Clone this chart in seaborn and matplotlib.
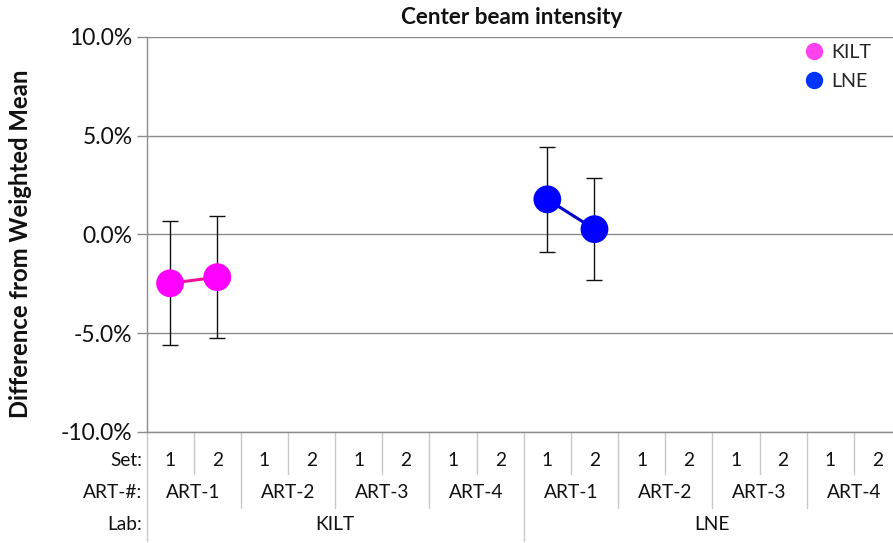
import matplotlib
matplotlib.use("Agg")
import matplotlib.pyplot as plt
import matplotlib.transforms as mtransforms
from matplotlib.lines import Line2D
import seaborn as sns
import pandas as pd

# ---- data ----
labs = ["KILT", "LNE"]
arts = ["ART-1", "ART-2", "ART-3", "ART-4"]
sets = ["1", "2"]
yticks = [-10.0, -5.0, 0.0, 5.0, 10.0]

kilt_cats = [("KILT", "ART-1", "1"), ("KILT", "ART-1", "2")]
kilt_values = [-2.47, -2.16]
kilt_errors = [3.15, 3.08]

lne_cats = [("LNE", "ART-1", "1"), ("LNE", "ART-1", "2")]
lne_values = [1.78, 0.27]
lne_errors = [2.67, 2.59]

title = "Center beam intensity"
ylabel = "Difference from Weighted Mean"

# ---- category order ----
categories = [(l, a, s) for l in labs for a in arts for s in sets]
cat_index = {c: i for i, c in enumerate(categories)}

rows = []
for lab, cats, vals, errs in [("KILT", kilt_cats, kilt_values, kilt_errors),
                              ("LNE", lne_cats, lne_values, lne_errors)]:
    for c, v, e in zip(cats, vals, errs):
        rows.append({"Lab": lab, "pos": cat_index[c], "value": v, "err": e})
df = pd.DataFrame(rows)

sns.set_theme(style="white")
plt.rcParams["font.family"] = ["Lato", "DejaVu Sans"]

W, H = 893, 543
fig = plt.figure(figsize=(W / 100, H / 100), dpi=100)
ax_left, ax_right = 146.5, 901.0
ax_top, ax_bot = 37.0, 432.0
ax = fig.add_axes([ax_left / W, 1 - ax_bot / H, (ax_right - ax_left) / W, (ax_bot - ax_top) / H])

marker_colors = {"KILT": "#FF00FF", "LNE": "#0000FF"}
line_colors = {"KILT": "#EE1199", "LNE": "#0000CC"}
legend_colors = {"KILT": "#FF44EE", "LNE": "#0033FF"}

# error bars
for _, r in df.iterrows():
    ax.errorbar(r["pos"], r["value"], yerr=r["err"], fmt="none", ecolor="#111111",
                elinewidth=1.0, capsize=6, capthick=1.0, zorder=2)

sns.lineplot(data=df, x="pos", y="value", hue="Lab", palette=line_colors,
             linewidth=2.2, legend=False, ax=ax, zorder=3, estimator=None, sort=False)
sns.scatterplot(data=df, x="pos", y="value", hue="Lab", palette=marker_colors,
                s=400, linewidth=0, legend=False, ax=ax, zorder=4)

ax.set_xlim(-0.5, len(categories) - 0.5)
ax.set_ylim(-10, 10)
ax.set_yticks(yticks)
ax.set_yticklabels([f"{v:.1f}%" for v in yticks], fontsize=16.5, color="#111111")
ax.set_xticks([])
ax.set_xlabel("")
ax.set_ylabel(ylabel, fontsize=17.2, fontweight="bold", color="#111111")
ax.yaxis.set_label_coords(-0.152, 0.476)
ax.grid(axis="y", color="#8C8C8C", linewidth=1.0)
ax.tick_params(axis="y", which="major", direction="out", length=7, width=1,
               color="#8C8C8C", pad=3, left=True)
for side in ["top", "right"]:
    ax.spines[side].set_visible(False)
ax.spines["left"].set_color("#8C8C8C")
ax.spines["bottom"].set_color("#8C8C8C")
ax.spines["left"].set_linewidth(1.0)
ax.spines["bottom"].set_linewidth(1.0)

# ---- multi-level category axis ----
trans = mtransforms.blended_transform_factory(ax.transData, ax.transAxes)
h = ax_bot - ax_top
def ay(ypix):
    return (ax_bot - ypix) / h

set_y, art_y, lab_y = ay(460), ay(493), ay(525)
lab_fs = 13.8
sep_col = "#C8C8C8"
for i, (l, a, s) in enumerate(categories):
    ax.text(i, set_y, s, transform=trans, ha="center", va="center", fontsize=lab_fs, color="#111111")
for li, l in enumerate(labs):
    for ai, a in enumerate(arts):
        center = (li * len(arts) + ai) * len(sets) + (len(sets) - 1) / 2
        ax.text(center, art_y, a, transform=trans, ha="center", va="center", fontsize=lab_fs, color="#111111")
    center = li * len(arts) * len(sets) + (len(arts) * len(sets) - 1) / 2
    ax.text(center, lab_y, l, transform=trans, ha="center", va="center", fontsize=lab_fs, color="#111111")

row_x = -0.006
for txt, yy in [("Set:", set_y), ("ART-#:", art_y), ("Lab:", lab_y)]:
    ax.text(row_x, yy, txt, transform=ax.transAxes, ha="right", va="center", fontsize=lab_fs, color="#111111")

n = len(categories)
for b in range(n + 1):
    xb = b - 0.5
    if b % (len(sets) * len(arts)) == 0:
        y1 = ay(541)
    elif b % len(sets) == 0:
        y1 = ay(508)
    else:
        y1 = ay(474)
    ax.plot([xb, xb], [0, y1], transform=trans, color=sep_col, linewidth=1.0, clip_on=False, zorder=1)

# title
fig.text(0.573, 1 - 18 / H, title, ha="center", va="center", fontsize=16.2, fontweight="bold", color="#111111")

# legend
handles = [Line2D([0], [0], marker="o", linestyle="none", markersize=12.5,
                  markerfacecolor=legend_colors[l], markeredgewidth=0, label=l) for l in labs]
fig.legend(handles=handles, loc="upper left", bbox_to_anchor=(802 / W, 1 - 44 / H),
           frameon=False, fontsize=14.2, handletextpad=0.3, labelspacing=0.6,
           borderaxespad=0, borderpad=0, handlelength=1.2)

fig.savefig("out.png", dpi=100)
